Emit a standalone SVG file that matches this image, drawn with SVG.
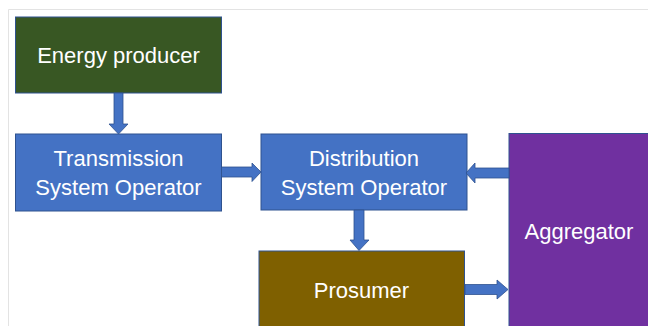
<svg xmlns="http://www.w3.org/2000/svg" width="648" height="326" viewBox="0 0 648 326">
<style>
.node{stroke:#2f528f;stroke-width:1}
.lbl{font-family:"Liberation Sans",Arial,sans-serif;font-size:22px;fill:#ffffff;text-anchor:middle}
.arr{fill:#4472c4;stroke:#2f528f;stroke-width:0.8;stroke-linejoin:miter}
</style>
<rect x="0" y="0" width="648" height="326" fill="#ffffff"/>
<path d="M8.5 326 V9.5 H648" fill="none" stroke="#e3e3e3" stroke-width="1"/>
<g id="energy-producer">
<rect class="node" x="15.5" y="17" width="206" height="76" fill="#385723"/>
<text class="lbl" x="118.5" y="63">Energy producer</text>
</g>
<g id="tso">
<rect class="node" x="15.5" y="134" width="206" height="77" fill="#4472c4"/>
<text class="lbl" x="118.5" y="165.5">Transmission</text>
<text class="lbl" x="118.5" y="194.5">System Operator</text>
</g>
<g id="dso">
<rect class="node" x="261" y="134" width="206" height="76" fill="#4472c4"/>
<text class="lbl" x="364" y="165.5">Distribution</text>
<text class="lbl" x="364" y="194.5">System Operator</text>
</g>
<g id="prosumer">
<rect class="node" x="259" y="251" width="205.5" height="80" fill="#7f6000"/>
<text class="lbl" x="361.5" y="297.5">Prosumer</text>
</g>
<g id="aggregator">
<rect class="node" x="509" y="133.5" width="145" height="200" fill="#7030a0"/>
<text class="lbl" x="579" y="238.5">Aggregator</text>
</g>
<g id="connectors">
<polygon class="arr" points="114,93 123,93 123,124 128,124 118.5,134 109,124 114,124"/>
<polygon class="arr" points="221.5,167 252,167 252,163 261,172 252,181.5 252,177 221.5,177"/>
<polygon class="arr" points="509,168 475,168 475,163 466,173 475,183 475,178 509,178"/>
<polygon class="arr" points="354,210 364,210 364,240 369,240 359,250.5 350,240 354,240"/>
<polygon class="arr" points="465,284.5 497,284.5 497,280 508,289.5 497,299 497,294.5 465,294.5"/>
</g>
</svg>
